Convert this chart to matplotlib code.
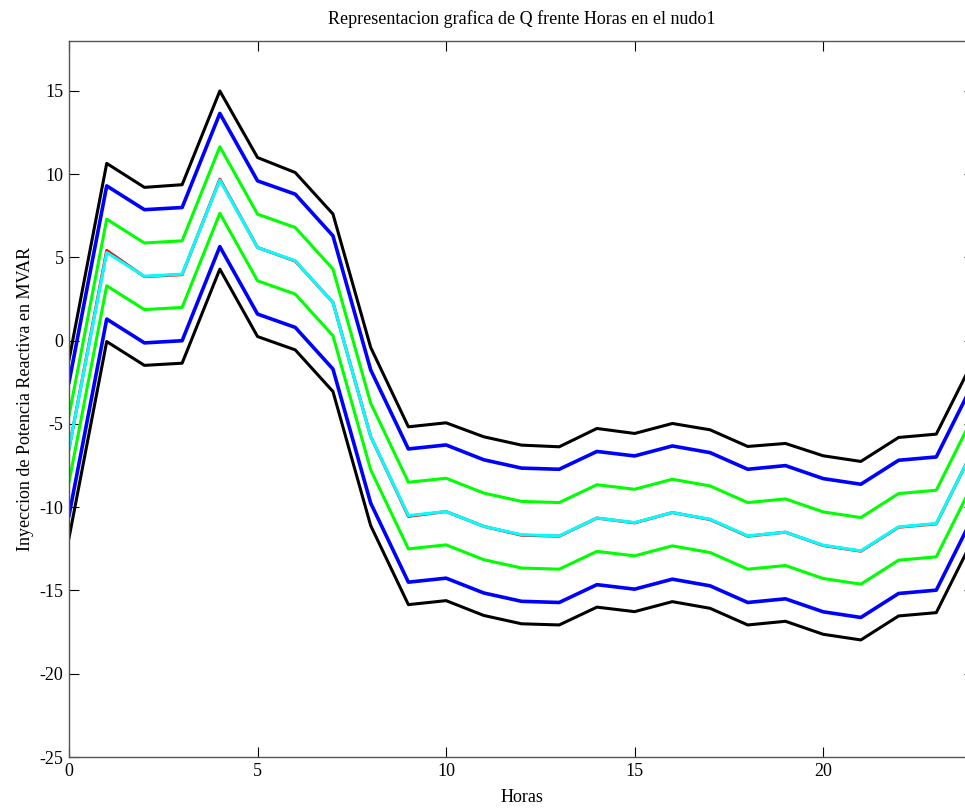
import matplotlib
matplotlib.use('Agg')
import matplotlib.pyplot as plt

# horas del dia (0..24) y curvas de Q en el nudo 1
horas = list(range(25))

q_central = [-6.5, 5.3, 3.87, 4.0, 9.65, 5.6, 4.8, 2.3, -5.75, -10.5, -10.26, -11.15, -11.65,
             -11.72, -10.65, -10.92, -10.32, -10.72, -11.72, -11.5, -12.28, -12.62, -11.18, -10.98, -6.45]
q_rojo = [-6.5, 5.42, 3.85, 3.97, 9.7, 5.6, 4.78, 2.3, -5.75, -10.55, -10.26, -11.15, -11.68,
          -11.74, -10.65, -10.94, -10.32, -10.74, -11.74, -11.5, -12.3, -12.64, -11.2, -11.0, -6.45]
negro_sup = [-1.15, 10.65, 9.21, 9.37, 15.0, 11.0, 10.1, 7.61, -0.4, -5.17, -4.93, -5.77, -6.27,
             -6.37, -5.27, -5.57, -4.97, -5.35, -6.35, -6.17, -6.91, -7.25, -5.81, -5.61, -1.1]
azul_sup = [-2.5, 9.3, 7.87, 8.0, 13.65, 9.6, 8.8, 6.3, -1.75, -6.5, -6.26, -7.15, -7.65,
            -7.72, -6.65, -6.92, -6.32, -6.72, -7.72, -7.5, -8.28, -8.62, -7.18, -6.98, -2.45]
verde_sup = [-4.5, 7.3, 5.87, 6.0, 11.65, 7.6, 6.8, 4.3, -3.75, -8.5, -8.26, -9.15, -9.65,
             -9.72, -8.65, -8.92, -8.32, -8.72, -9.72, -9.5, -10.28, -10.62, -9.18, -8.98, -4.45]
verde_inf = [-8.5, 3.3, 1.87, 2.0, 7.65, 3.6, 2.8, 0.3, -7.75, -12.5, -12.26, -13.15, -13.65,
             -13.72, -12.65, -12.92, -12.32, -12.72, -13.72, -13.5, -14.28, -14.62, -13.18, -12.98, -8.45]
azul_inf = [-10.5, 1.3, -0.13, 0.0, 5.65, 1.6, 0.8, -1.7, -9.75, -14.5, -14.26, -15.15, -15.65,
            -15.72, -14.65, -14.92, -14.32, -14.72, -15.72, -15.5, -16.28, -16.62, -15.18, -14.98, -10.45]
negro_inf = [-11.85, -0.05, -1.48, -1.35, 4.3, 0.25, -0.55, -3.05, -11.1, -15.85, -15.61, -16.5, -17.0,
             -17.07, -16.0, -16.27, -15.67, -16.07, -17.07, -16.85, -17.63, -17.97, -16.53, -16.33, -11.8]

plt.rcParams['font.family'] = ['Liberation Serif', 'DejaVu Serif']
plt.rcParams['axes.unicode_minus'] = False

fig = plt.figure(figsize=(9.65, 8.09), dpi=100)
ax = fig.add_axes([69 / 965, 52 / 809, 905 / 965, 716 / 809])

ax.plot(horas, negro_sup, color='black', lw=2.2)
ax.plot(horas, azul_sup, color='#0000ff', lw=2.6)
ax.plot(horas, verde_sup, color='#00ff00', lw=2.2)
ax.plot(horas, q_rojo, color='red', lw=2.2)
ax.plot(horas, q_central, color='cyan', lw=2.2)
ax.plot(horas, verde_inf, color='#00ff00', lw=2.2)
ax.plot(horas, azul_inf, color='#0000ff', lw=2.6)
ax.plot(horas, negro_inf, color='black', lw=2.2)

ax.set_xlim(0, 24)
ax.set_ylim(-25, 18)
ax.set_xticks([0, 5, 10, 15, 20])
ax.set_yticks([-25, -20, -15, -10, -5, 0, 5, 10, 15])
ax.tick_params(direction='in', length=7, width=0.8, top=True, right=True,
               labelsize=13, colors='black', pad=4)
for s in ax.spines.values():
    s.set_color('#555555')
    s.set_linewidth(1.0)

ax.set_title('Representacion grafica de Q frente Horas en el nudo1', fontsize=13, pad=12)
ax.set_xlabel('Horas', fontsize=13, labelpad=7)
ax.set_ylabel('Inyeccion de Potencia Reactiva en MVAR', fontsize=13, labelpad=4)

fig.savefig('out.png', dpi=100)
